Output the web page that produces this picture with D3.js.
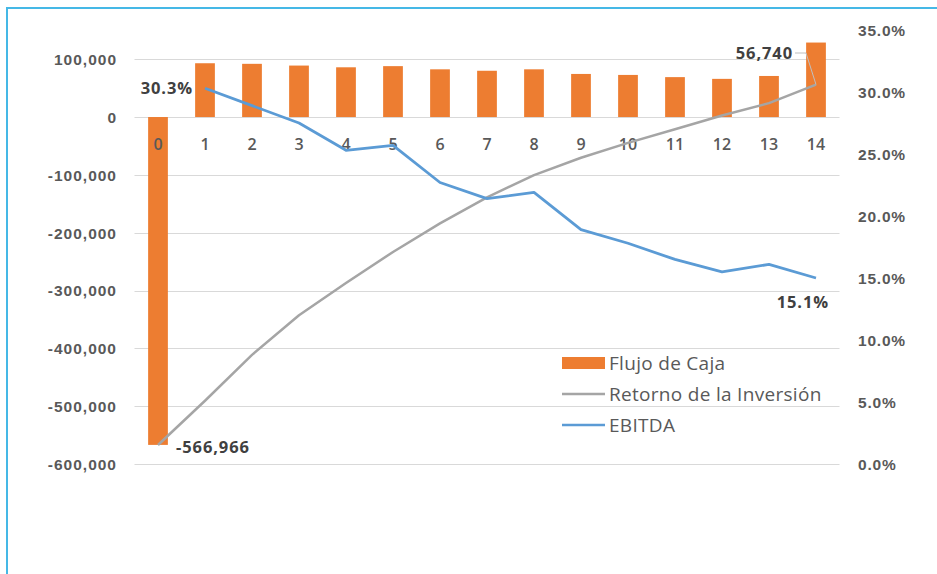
<!DOCTYPE html>
<html><head><meta charset="utf-8">
<script src="https://cdn.jsdelivr.net/npm/d3@7"></script>
<style>
body{margin:0;background:#fff;}
svg{display:block;font-family:"Open Sans",sans-serif;}
</style></head>
<body><svg id="c" width="937" height="574"></svg>
<script>
const categories = ["0","1","2","3","4","5","6","7","8","9","10","11","12","13","14"];
const flujoCaja = [-566966, 93000, 92000, 89000, 86000, 88000, 82500, 80000, 82500, 74500, 72800, 69000, 66000, 71000, 128800];
const retorno = [0.0153, 0.051, 0.088, 0.120, 0.146, 0.171, 0.194, 0.215, 0.233, 0.247, 0.259, 0.270, 0.281, 0.291, 0.306];
const ebitda = [null, 0.303, 0.289, 0.275, 0.253, 0.257, 0.227, 0.214, 0.219, 0.189, 0.178, 0.165, 0.155, 0.161, 0.150];
const leftTicks = [100000, 0, -100000, -200000, -300000, -400000, -500000, -600000];
const rightTicks = [0, 0.05, 0.10, 0.15, 0.20, 0.25, 0.30, 0.35];
const seriesNames = ["Flujo de Caja", "Retorno de la Inversión", "EBITDA"];
const labelTexts = {bar0: "-566,966", ebitdaFirst: "30.3%", ebitdaLast: "15.1%", last: "56,740"};

const svg = d3.select("#c");
const C = {orange:"#ED7D31", gray:"#A5A5A5", blue:"#5B9BD5", text:"#595959", grid:"#D9D9D9"};

// frame
svg.append("rect").attr("x",7).attr("y",8).attr("width",960).attr("height",600)
  .attr("fill","none").attr("stroke","#45B8E6").attr("stroke-width",2);

const x = d3.scaleBand().domain(categories).range([134.5, 839.5]).paddingInner(0.58).paddingOuter(0.29);
const yL = d3.scaleLinear().domain([-600000, 100000]).range([464, 59.2]);
const yR = d3.scaleLinear().domain([0, 0.35]).range([464, 30]);
const cx = c => x(c) + x.bandwidth()/2;

// gridlines
svg.append("g").selectAll("line").data(leftTicks).join("line")
  .attr("x1",134.5).attr("x2",839.5).attr("y1",d=>Math.round(yL(d))+0.5).attr("y2",d=>Math.round(yL(d))+0.5)
  .attr("stroke",C.grid).attr("stroke-width",1);

// left axis
const fmt = d => d3.format(",")(d).replace("\u2212","-");
const gL = svg.append("g").attr("transform","translate(117,0)")
  .call(d3.axisLeft(yL).tickValues(leftTicks).tickFormat(fmt).tickSize(0).tickPadding(0));
gL.select(".domain").remove();
gL.selectAll("text").attr("fill",C.text).style("font-size","15.5px").style("font-weight","600").style("letter-spacing","1px").attr("dy","0.35em");

// right axis
const gR = svg.append("g").attr("transform","translate(858,0)")
  .call(d3.axisRight(yR).tickValues(rightTicks).tickFormat(d3.format(".1%")).tickSize(0).tickPadding(0));
gR.select(".domain").remove();
gR.selectAll("text").attr("fill",C.text).style("font-size","15.5px").style("font-weight","600").style("letter-spacing","0.8px").attr("dy","0.35em");

// bars
svg.append("g").selectAll("rect").data(flujoCaja).join("rect")
  .attr("x",(d,i)=>x(categories[i])).attr("width",x.bandwidth())
  .attr("y",d=>yL(Math.max(0,d))).attr("height",d=>Math.abs(yL(d)-yL(0)))
  .attr("fill",C.orange);

// x category labels
svg.append("g").selectAll("text").data(categories).join("text")
  .attr("x",d=>cx(d)).attr("y",144).attr("dy","0.35em").attr("text-anchor","middle")
  .attr("fill",C.text).style("font-size","16px").style("font-weight","600").text(d=>d);

// lines
const lineR = d3.line().defined(d=>d.v!=null).x(d=>cx(d.c)).y(d=>yR(d.v));
svg.append("path").datum(retorno.map((v,i)=>({c:categories[i],v})))
  .attr("d",lineR).attr("fill","none").attr("stroke",C.gray).attr("stroke-width",2.5).attr("stroke-linejoin","round");
svg.append("path").datum(ebitda.map((v,i)=>({c:categories[i],v})))
  .attr("d",lineR).attr("fill","none").attr("stroke",C.blue).attr("stroke-width",2.8).attr("stroke-linejoin","round");

// data labels
const lab = (tx,ty,t,anchor) => svg.append("text").attr("x",tx).attr("y",ty).attr("dy","0.35em")
  .attr("text-anchor",anchor||"start").attr("fill","#404040").style("font-size","16.5px").style("font-weight","bold")
  .style("letter-spacing","0.9px").text(t);
lab(cx("0")+18, yL(flujoCaja[0])+2, labelTexts.bar0);
lab(cx("1")-12, yR(ebitda[1]), labelTexts.ebitdaFirst, "end");
lab(cx("14")+13, yR(ebitda[14])+24, labelTexts.ebitdaLast, "end");
const lx = cx("14"), ly = yR(retorno[14]);
svg.append("polyline").attr("points",`${lx-21},53 ${lx-10},53 ${lx},${ly}`)
  .attr("fill","none").attr("stroke","#BFBFBF").attr("stroke-width",1);
lab(lx-23, 53, labelTexts.last, "end");

// legend
const lg = svg.append("g").attr("transform","translate(562,0)");
const rows = [363, 394, 425];
lg.append("rect").attr("x",0).attr("y",rows[0]-6).attr("width",43).attr("height",12).attr("fill",C.orange);
lg.append("line").attr("x1",0).attr("x2",43).attr("y1",rows[1]).attr("y2",rows[1]).attr("stroke",C.gray).attr("stroke-width",2.5);
lg.append("line").attr("x1",0).attr("x2",43).attr("y1",rows[2]).attr("y2",rows[2]).attr("stroke",C.blue).attr("stroke-width",2.5);
lg.selectAll("text").data(seriesNames).join("text")
  .attr("x",47).attr("y",(d,i)=>rows[i]).attr("dy","0.35em").attr("fill",C.text)
  .style("font-size","19px").style("letter-spacing","0.3px").text(d=>d);
</script></body></html>
